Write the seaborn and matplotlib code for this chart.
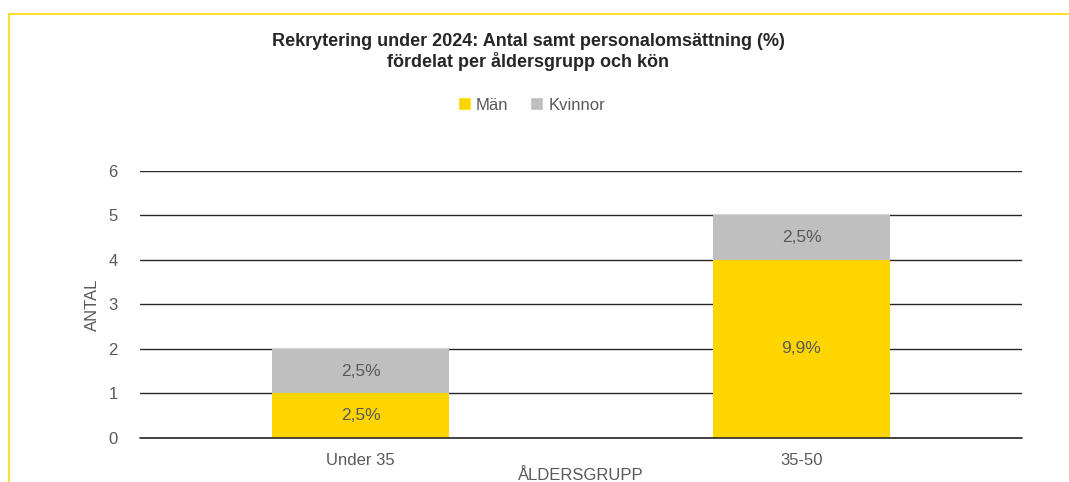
import matplotlib
matplotlib.use("Agg")
import matplotlib.pyplot as plt
from matplotlib.patches import Rectangle, Patch
import pandas as pd
import seaborn as sns

# data
aldersgrupp = ["Under 35", "35-50"]
man = [1, 4]
kvinnor = [1, 1]
man_pct = ["2,5%", "9,9%"]
kvinnor_pct = ["2,5%", "2,5%"]

GUL = "#FFD500"
GRA = "#BFBFBF"
TEXT = "#595959"

sns.set_theme(style="white")
plt.rcParams["font.family"] = ["Liberation Sans", "DejaVu Sans"]

df = pd.DataFrame({"grupp": aldersgrupp, "man": man, "kvinnor": kvinnor})
df["total"] = df["man"] + df["kvinnor"]

fig = plt.figure(figsize=(10.69, 4.82), dpi=100)
ax = fig.add_axes([0.131, 0.0913, 0.825, 0.554])

# stacked: total (kvinnor) first, then man on top of it
sns.barplot(data=df, x="grupp", y="total", color=GRA, width=0.40,
            saturation=1, linewidth=0, ax=ax, zorder=3)
sns.barplot(data=df, x="grupp", y="man", color=GUL, width=0.40,
            saturation=1, linewidth=0, ax=ax, zorder=3)

for i in range(len(df)):
    ax.text(i, df["man"][i] / 2, man_pct[i], ha="center", va="center",
            fontsize=12.5, color=TEXT, zorder=4)
    ax.text(i, df["man"][i] + df["kvinnor"][i] / 2, kvinnor_pct[i],
            ha="center", va="center", fontsize=12.5, color=TEXT, zorder=4)

ax.set_ylim(0, 6)
ax.set_yticks(range(7))
ax.yaxis.grid(True, color="#262626", linewidth=1)
ax.set_axisbelow(True)
ax.axhline(0, color="#262626", linewidth=1.2, clip_on=False, zorder=5)
for s in ax.spines.values():
    s.set_visible(False)
ax.tick_params(axis="both", length=0, labelsize=12, labelcolor=TEXT)
ax.tick_params(axis="y", pad=16)
ax.tick_params(axis="x", pad=11)
ax.set_xlabel("ÅLDERSGRUPP", fontsize=12, color=TEXT, labelpad=0)
ax.set_ylabel("ANTAL", fontsize=12, color=TEXT, labelpad=6)

fig.text(0.494, 0.892, "Rekrytering under 2024: Antal samt personalomsättning (%)\nfördelat per åldersgrupp och kön",
         ha="center", va="center", fontsize=13, fontweight="bold",
         color="#262626", linespacing=1.15)

handles = [Patch(facecolor=GUL, label="Män"), Patch(facecolor=GRA, label="Kvinnor")]
fig.legend(handles=handles, loc="center", bbox_to_anchor=(0.497, 0.782), ncol=2,
           frameon=False, fontsize=12, handlelength=0.8, handleheight=0.8,
           handletextpad=0.3, columnspacing=1.3, labelcolor=TEXT)

# yellow frame around the chart area
fig.patches.append(Rectangle((9 / 1069, -0.1), 1.2, 1 - 14 / 482 + 0.1,
                             transform=fig.transFigure, fill=False,
                             edgecolor="#FFDD33", linewidth=1.5))

fig.savefig("out.png", dpi=100)
